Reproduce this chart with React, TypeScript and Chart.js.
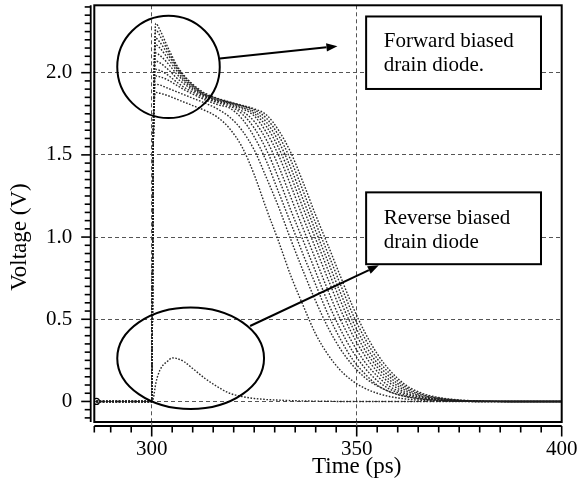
import React, { useEffect, useRef } from 'react';
import { Chart, registerables } from 'chart.js';

Chart.register(...registerables);

// ---- data (time in ps, voltage in V) ----
const time = [286.5, 300, 300.4, 301, 302, 304, 305, 306, 308, 310, 313, 316, 319, 322, 325, 328, 331, 334, 337, 340, 343, 346, 349, 352, 355, 358, 362, 366, 370, 375, 380, 390, 400];

const fwd0 = [0, 0, 1.6, 1.88, 1.875, 1.86, 1.85, 1.84, 1.82, 1.80, 1.77, 1.73, 1.66, 1.55, 1.38, 1.17, 0.97, 0.76, 0.58, 0.41, 0.285, 0.19, 0.125, 0.08, 0.05, 0.03, 0.015, 0.007, 0.003, 0.001, 0, 0, 0];
const fwd1 = [0, 0, 1.6, 1.93, 1.925, 1.905, 1.895, 1.885, 1.865, 1.845, 1.815, 1.78, 1.73, 1.65, 1.53, 1.36, 1.18, 0.98, 0.79, 0.61, 0.45, 0.32, 0.22, 0.145, 0.095, 0.06, 0.03, 0.014, 0.006, 0.002, 0, 0, 0];
const fwd2 = [0, 0, 1.6, 1.98, 1.975, 1.955, 1.94, 1.925, 1.895, 1.87, 1.835, 1.806, 1.785, 1.72, 1.61, 1.46, 1.27, 1.08, 0.89, 0.71, 0.53, 0.38, 0.256, 0.168, 0.10, 0.059, 0.029, 0.014, 0.006, 0.001, 0, 0, 0];
const fwd3 = [0, 0, 1.6, 2.02, 2.013, 1.985, 1.965, 1.945, 1.91, 1.882, 1.845, 1.818, 1.797, 1.75, 1.664, 1.53, 1.354, 1.159, 0.975, 0.788, 0.602, 0.44, 0.305, 0.203, 0.127, 0.076, 0.037, 0.018, 0.008, 0.002, 0, 0, 0];
const fwd4 = [0, 0, 1.6, 2.07, 2.06, 2.02, 1.995, 1.97, 1.93, 1.895, 1.853, 1.825, 1.806, 1.767, 1.704, 1.59, 1.428, 1.237, 1.048, 0.863, 0.675, 0.50, 0.356, 0.239, 0.155, 0.092, 0.046, 0.023, 0.011, 0.003, 0.001, 0, 0];
const fwd5 = [0, 0, 1.6, 2.12, 2.105, 2.055, 2.025, 1.995, 1.945, 1.905, 1.858, 1.83, 1.81, 1.782, 1.737, 1.636, 1.494, 1.309, 1.114, 0.931, 0.744, 0.562, 0.405, 0.279, 0.183, 0.113, 0.054, 0.027, 0.013, 0.004, 0.001, 0, 0];
const fwd6 = [0, 0, 1.6, 2.17, 2.15, 2.085, 2.05, 2.015, 1.955, 1.912, 1.862, 1.834, 1.815, 1.79, 1.752, 1.672, 1.54, 1.367, 1.172, 0.988, 0.80, 0.614, 0.45, 0.313, 0.209, 0.131, 0.066, 0.031, 0.015, 0.005, 0.001, 0, 0];
const fwd7 = [0, 0, 1.6, 2.21, 2.185, 2.11, 2.07, 2.03, 1.965, 1.92, 1.866, 1.838, 1.818, 1.797, 1.764, 1.698, 1.58, 1.416, 1.224, 1.036, 0.85, 0.663, 0.49, 0.347, 0.233, 0.15, 0.076, 0.037, 0.018, 0.006, 0.002, 0, 0];
const fwd8 = [0, 0, 1.6, 2.26, 2.225, 2.13, 2.085, 2.04, 1.975, 1.925, 1.87, 1.842, 1.82, 1.80, 1.775, 1.722, 1.616, 1.464, 1.276, 1.084, 0.90, 0.713, 0.533, 0.383, 0.26, 0.17, 0.087, 0.043, 0.021, 0.008, 0.002, 0, 0];
const fwd9 = [0, 0, 1.6, 2.30, 2.26, 2.15, 2.10, 2.05, 1.98, 1.93, 1.875, 1.845, 1.822, 1.802, 1.78, 1.743, 1.648, 1.51, 1.328, 1.133, 0.95, 0.763, 0.579, 0.42, 0.29, 0.191, 0.099, 0.049, 0.024, 0.009, 0.003, 0, 0];
const reverse = [0, 0, 0.02, 0.11, 0.19, 0.248, 0.265, 0.262, 0.24, 0.20, 0.14, 0.09, 0.05, 0.03, 0.018, 0.012, 0.008, 0.005, 0.003, 0.002, 0.001, 0, 0, 0, 0, 0, 0, 0, 0, 0, 0, 0, 0];

const forwardSeries = [fwd0, fwd1, fwd2, fwd3, fwd4, fwd5, fwd6, fwd7, fwd8, fwd9];

const xTickVals = [300, 350, 400];
const xTickLabels = ['300', '350', '400'];
const yTickVals = [0, 0.5, 1.0, 1.5, 2.0];
const yTickLabels = ['0', '0.5', '1.0', '1.5', '2.0'];
const xTitle = 'Time (ps)';
const yTitle = 'Voltage (V)';

const X_MIN = 286;
const X_MAX = 400;
const Y_MIN = -0.125;
const Y_MAX = 2.41;
const X_MINOR_STEP = 5;
const Y_MINOR_STEP = 0.05;

// annotations, in data coordinates
const annoCircles = [
  { t: 304.1, v: 2.035, rt: 12.5, rv: 0.311 },
  { t: 309.5, v: 0.263, rt: 17.9, rv: 0.309 },
];
const annoBoxes = [
  { t0: 352.3, t1: 394.95, v0: 1.901, v1: 2.342, textT: 356.6, lines: ['Forward biased', 'drain diode.'], lineV: [2.19, 2.045] },
  { t0: 352.3, t1: 394.95, v0: 0.835, v1: 1.272, textT: 356.6, lines: ['Reverse biased', 'drain diode'], lineV: [1.115, 0.97] },
];
const annoArrows = [
  { t0: 316.6, v0: 2.087, t1: 345.3, v1: 2.161 },
  { t0: 324.0, v0: 0.459, t1: 355.4, v1: 0.828 },
];

const SERIF = '"Liberation Serif", "Times New Roman", serif';

const zeroPad = (s: any) => {
  s.paddingTop = 0;
  s.paddingBottom = 0;
  s.paddingLeft = 0;
  s.paddingRight = 0;
};

const decorPlugin = {
  id: 'decor',
  afterDatasetsDraw(chart: any) {
    const { ctx, scales } = chart;
    const xs = scales.x, ys = scales.y;
    const px = (v: number) => xs.getPixelForValue(v);
    const py = (v: number) => ys.getPixelForValue(v);
    ctx.save();
    ctx.strokeStyle = '#000';
    ctx.lineWidth = 2;
    for (const e of annoCircles) {
      const cx = px(e.t), cy = py(e.v);
      const rx = Math.abs(px(e.t + e.rt) - cx);
      const ry = Math.abs(py(e.v + e.rv) - cy);
      ctx.beginPath();
      ctx.ellipse(cx, cy, rx, ry, 0, 0, Math.PI * 2);
      ctx.stroke();
    }
    for (const b of annoBoxes) {
      const l = px(b.t0), r = px(b.t1), t = py(b.v1), bt = py(b.v0);
      ctx.fillStyle = '#fff';
      ctx.fillRect(l, t, r - l, bt - t);
      ctx.lineWidth = 2;
      ctx.strokeStyle = '#000';
      ctx.strokeRect(l, t, r - l, bt - t);
      ctx.fillStyle = '#000';
      ctx.font = '21px ' + SERIF;
      ctx.textAlign = 'left';
      ctx.textBaseline = 'middle';
      b.lines.forEach((s, i) => ctx.fillText(s, px(b.textT), py(b.lineV[i])));
    }
    for (const a of annoArrows) {
      const x0 = px(a.t0), y0 = py(a.v0), x1 = px(a.t1), y1 = py(a.v1);
      const ang = Math.atan2(y1 - y0, x1 - x0);
      const len = 11, hw = 4.2;
      const bx = x1 - len * Math.cos(ang), by = y1 - len * Math.sin(ang);
      ctx.lineWidth = 2;
      ctx.beginPath();
      ctx.moveTo(x0, y0);
      ctx.lineTo(bx, by);
      ctx.stroke();
      ctx.fillStyle = '#000';
      ctx.beginPath();
      ctx.moveTo(x1, y1);
      ctx.lineTo(bx + hw * Math.sin(ang), by - hw * Math.cos(ang));
      ctx.lineTo(bx - hw * Math.sin(ang), by + hw * Math.cos(ang));
      ctx.closePath();
      ctx.fill();
    }
    ctx.restore();
  },
  afterDraw(chart: any) {
    const { ctx, chartArea: ca, scales } = chart;
    const xs = scales.x, ys = scales.y;
    ctx.save();
    ctx.strokeStyle = '#000';
    // plot frame
    ctx.lineWidth = 2;
    ctx.strokeRect(ca.left, ca.top, ca.right - ca.left, ca.bottom - ca.top);
    // y axis line, offset from the frame
    const ax = ca.left - 3.6;
    ctx.lineWidth = 1.8;
    ctx.beginPath();
    ctx.moveTo(ax, ca.top);
    ctx.lineTo(ax, ca.bottom);
    ctx.stroke();
    // x axis line
    const ay = ca.bottom + 4;
    ctx.beginPath();
    ctx.moveTo(ca.left, ay);
    ctx.lineTo(ca.right, ay);
    ctx.stroke();
    // major vertical grid lines continue down to the axis line
    ctx.lineWidth = 1;
    ctx.strokeStyle = '#555';
    ctx.setLineDash([4, 3]);
    for (const v of xTickVals) {
      if (v >= X_MAX) continue;
      const xx = xs.getPixelForValue(v);
      ctx.beginPath();
      ctx.moveTo(xx, ca.bottom);
      ctx.lineTo(xx, ay);
      ctx.stroke();
    }
    ctx.setLineDash([]);
    ctx.strokeStyle = '#000';
    ctx.lineWidth = 1.6;
    // y ticks
    const yStart = Math.ceil(Y_MIN / Y_MINOR_STEP);
    const yEnd = Math.floor(Y_MAX / Y_MINOR_STEP);
    for (let k = yStart; k <= yEnd; k++) {
      const v = k * Y_MINOR_STEP;
      const yy = ys.getPixelForValue(v);
      const major = k % 10 === 0;
      ctx.beginPath();
      ctx.moveTo(ax, yy);
      ctx.lineTo(ax - (major ? 9.5 : 6), yy);
      ctx.stroke();
    }
    // x ticks
    const xtv = [X_MIN];
    for (let k = Math.ceil((X_MIN + 0.01) / X_MINOR_STEP); k * X_MINOR_STEP <= X_MAX; k++) xtv.push(k * X_MINOR_STEP);
    for (const v of xtv) {
      const xx = xs.getPixelForValue(v);
      const major = xTickVals.includes(v);
      ctx.beginPath();
      ctx.moveTo(xx, ay);
      ctx.lineTo(xx, ay + (major ? 10.5 : 6.5));
      ctx.stroke();
    }
    // axis titles
    ctx.fillStyle = '#000';
    ctx.font = '23px ' + SERIF;
    ctx.textAlign = 'center';
    ctx.textBaseline = 'middle';
    ctx.fillText(xTitle, xs.getPixelForValue(350), ca.bottom + 45);
    ctx.save();
    ctx.translate(20, ys.getPixelForValue(1.0));
    ctx.rotate(-Math.PI / 2);
    ctx.fillText(yTitle, 0, 0);
    ctx.restore();
    ctx.restore();
  },
};

export default function App() {
  const ref = useRef<HTMLCanvasElement | null>(null);
  useEffect(() => {
    if (!ref.current) return;
    Chart.defaults.font.family = SERIF;
    const lineStyle = {
      borderColor: 'rgba(30,30,30,0.95)',
      borderWidth: 1.4,
      borderDash: [1.6, 1.6],
      pointRadius: 0,
      cubicInterpolationMode: 'monotone' as const,
      fill: false,
    };
    const datasets: any[] = forwardSeries.map((s, i) => ({
      label: 'forward ' + i,
      data: time.map((t, j) => ({ x: t, y: s[j] })),
      ...lineStyle,
    }));
    datasets.push({
      label: 'reverse',
      data: time.map((t, j) => ({ x: t, y: reverse[j] })),
      ...lineStyle,
      pointRadius: (c: any) => (c.dataIndex === 0 ? 3 : 0),
      pointBorderColor: '#000',
      pointBackgroundColor: 'rgba(0,0,0,0)',
      pointBorderWidth: 1.3,
    });
    const chart = new Chart(ref.current, {
      type: 'line',
      data: { datasets },
      options: {
        animation: false,
        responsive: false,
        maintainAspectRatio: false,
        layout: { padding: { top: 5, right: 16.3, left: 0, bottom: 0 } },
        plugins: { legend: { display: false }, tooltip: { enabled: false } },
        scales: {
          x: {
            type: 'linear',
            min: X_MIN,
            max: X_MAX,
            afterBuildTicks: (s: any) => { s.ticks = xTickVals.map((v) => ({ value: v })); },
            afterFit: (s: any) => { s.height = 66; zeroPad(s); },
            ticks: {
              callback: (_v: any, i: number) => xTickLabels[i],
              color: '#000',
              font: { size: 21, family: SERIF },
              padding: 15,
              maxRotation: 0,
              autoSkip: false,
            },
            grid: { color: '#555', lineWidth: 1, drawTicks: false },
            border: { display: false, dash: [4, 3] },
          },
          y: {
            type: 'linear',
            min: Y_MIN,
            max: Y_MAX,
            afterBuildTicks: (s: any) => { s.ticks = yTickVals.map((v) => ({ value: v })); },
            afterFit: (s: any) => { s.width = 94.3; zeroPad(s); },
            ticks: {
              callback: (_v: any, i: number) => yTickLabels[i],
              color: '#000',
              font: { size: 21, family: SERIF },
              padding: 22,
              autoSkip: false,
            },
            grid: { color: '#555', lineWidth: 1, drawTicks: false },
            border: { display: false, dash: [4, 3] },
          },
        },
      },
      plugins: [decorPlugin],
    });
    return () => chart.destroy();
  }, []);
  return (
    <div style={{ position: 'fixed', left: 0, top: 0, width: 578, height: 488, background: '#fff' }}>
      <canvas ref={ref} width={578} height={488} style={{ display: 'block' }} />
    </div>
  );
}
